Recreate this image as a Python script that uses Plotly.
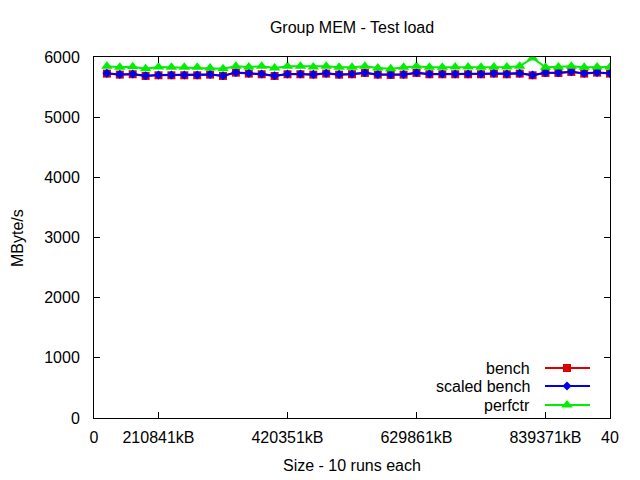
import plotly.graph_objects as go

runs = list(range(1, 41))
scaled_bench = [5728, 5711, 5717, 5689, 5700, 5700, 5700, 5700, 5711, 5689,
                5744, 5728, 5717, 5689, 5717, 5717, 5711, 5728, 5711, 5717,
                5739, 5711, 5706, 5711, 5739, 5717, 5717, 5717, 5717, 5717,
                5728, 5717, 5728, 5700, 5739, 5739, 5756, 5728, 5744, 5728]
bench = [v - 4 for v in scaled_bench]
perfctr = [5845, 5828, 5839, 5806, 5834, 5828, 5828, 5828, 5817, 5806,
           5845, 5834, 5845, 5817, 5845, 5845, 5834, 5845, 5828, 5828,
           5845, 5817, 5806, 5828, 5845, 5828, 5828, 5834, 5834, 5828,
           5834, 5834, 5845, 5985, 5828, 5834, 5845, 5828, 5834, 5834]

tick_vals = [0, 5, 15, 25, 35, 40]
tick_text = ["0", "210841kB", "420351kB", "629861kB", "839371kB", "40"]
y_ticks = [0, 1000, 2000, 3000, 4000, 5000, 6000]

names = ["bench", "scaled bench", "perfctr"]
colors = ["#dd0000", "#0000ee", "#00ee00"]
symbols = ["square", "diamond", "triangle-up"]
sizes = [8, 7, 10]
series = [bench, scaled_bench, perfctr]

FONT = "Liberation Sans"
FS = 16
L, R, T, B = 94, 610, 57, 418


def px(xp):
    return (xp - L) / (R - L)


def py(yp):
    return (B - yp) / (B - T)


fig = go.Figure()
for name, col, sym, sz, vals in zip(names, colors, symbols, sizes, series):
    fig.add_trace(go.Scatter(x=runs, y=vals, mode="lines+markers", name=name,
                             line=dict(color=col, width=2),
                             marker=dict(symbol=sym, size=sz, color=col),
                             showlegend=False))

# custom legend (text on left, sample on right), in pixel-like coordinates
rows = [368, 386, 405]
for name, col, sym, sz, yy in zip(names, colors, symbols, sizes, rows):
    fig.add_trace(go.Scatter(x=[545, 567, 590], y=[yy, yy, yy], mode="lines",
                             line=dict(color=col, width=2), xaxis="x2", yaxis="y2",
                             showlegend=False, hoverinfo="skip"))
    fig.add_trace(go.Scatter(x=[567], y=[yy], mode="markers",
                             marker=dict(symbol=sym, size=sz, color=col), xaxis="x2", yaxis="y2",
                             showlegend=False, hoverinfo="skip"))
    fig.add_annotation(x=px(532), y=py(yy), xref="paper", yref="paper", text=name,
                       showarrow=False, xanchor="right", yanchor="middle",
                       font=dict(family=FONT, size=FS, color="#000000"))

# axis titles placed in paper coordinates
fig.add_annotation(x=px((L + R) / 2), y=py(465), xref="paper", yref="paper",
                   text="Size - 10 runs each", showarrow=False,
                   xanchor="center", yanchor="middle",
                   font=dict(family=FONT, size=FS, color="black"))
fig.add_annotation(x=px(17), y=py(238), xref="paper", yref="paper", text="MByte/s",
                   textangle=-90, showarrow=False, xanchor="center", yanchor="middle",
                   font=dict(family=FONT, size=FS, color="black"))

axis_common = dict(showline=True, linecolor="black", linewidth=1, mirror="ticks",
                   ticks="inside", ticklen=6, tickcolor="black", showgrid=False,
                   zeroline=False, automargin=False,
                   tickfont=dict(family=FONT, size=FS, color="black"))

fig.update_layout(
    width=640, height=480,
    margin=dict(l=L, r=640 - R, t=T, b=480 - B),
    paper_bgcolor="white", plot_bgcolor="white",
    title=dict(text="Group MEM - Test load", x=(L + R) / 2 / 640, xanchor="center",
               y=1 - 27 / 480, yanchor="middle",
               font=dict(family=FONT, size=FS, color="black")),
    xaxis=dict(range=[0, 40], tickvals=tick_vals, ticktext=tick_text,
               ticklabelstandoff=5, **axis_common),
    yaxis=dict(range=[0, 6000], tickvals=y_ticks, ticklabelstandoff=10, **axis_common),
    xaxis2=dict(range=[L, R], overlaying="x", visible=False, fixedrange=True),
    yaxis2=dict(range=[B, T], overlaying="y", visible=False, fixedrange=True),
    font=dict(family=FONT, size=FS, color="black"),
)

fig.write_html("out.html")
